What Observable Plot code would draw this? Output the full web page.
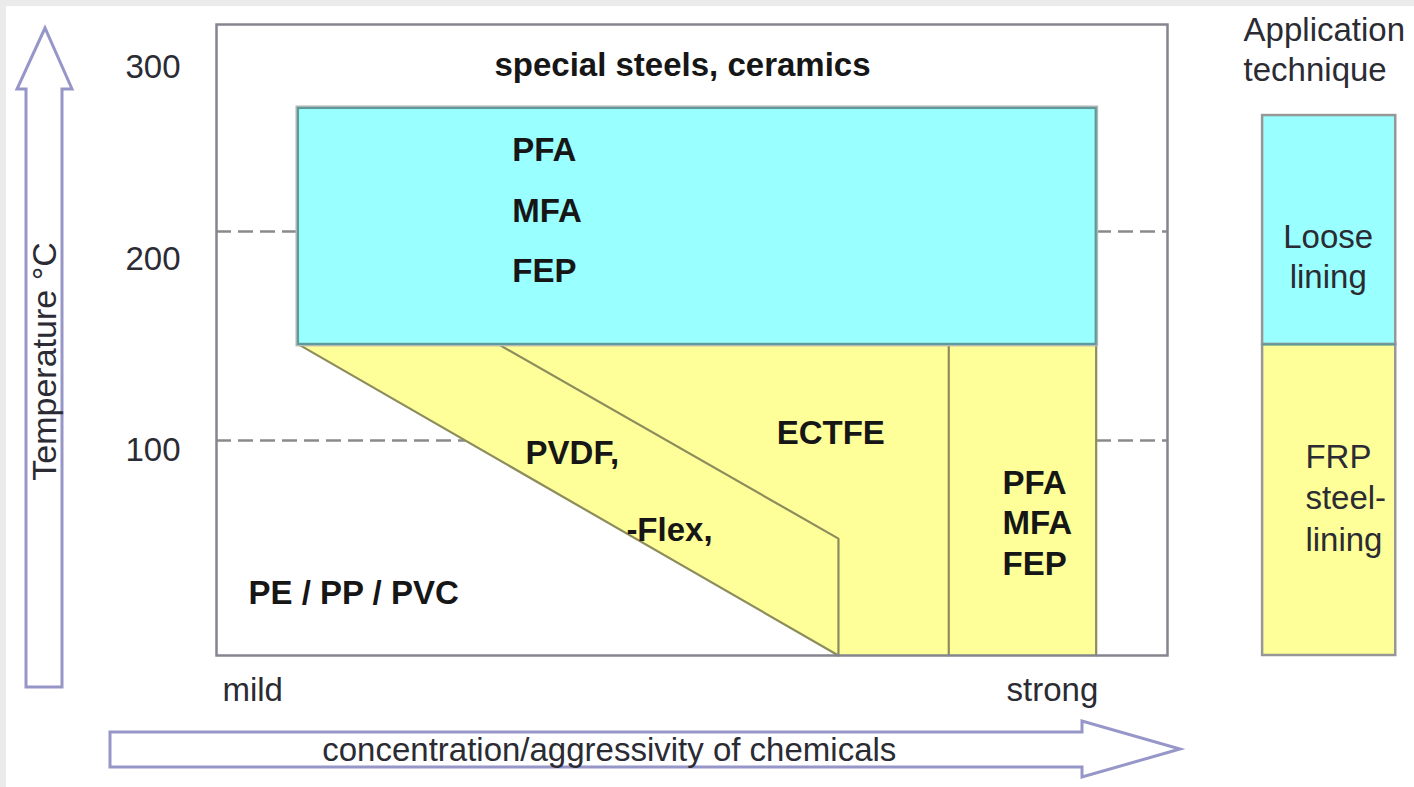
<!DOCTYPE html>
<html><head><meta charset="utf-8">
<script src="https://cdn.jsdelivr.net/npm/d3@7"></script>
<script src="https://cdn.jsdelivr.net/npm/@observablehq/plot@0.6"></script>
<style>
html,body{margin:0;padding:0;background:#fff;}
#wrap{position:relative;width:1414px;height:787px;overflow:hidden;background:#fff;}
#wrap::before{content:"";position:absolute;left:0;top:0;width:1414px;height:6px;background:#ebebeb;z-index:2}
#wrap::after{content:"";position:absolute;left:0;top:0;width:6px;height:787px;background:#ebebeb;z-index:2}
</style></head><body><div id="wrap"></div>
<script>
// ---- Data (temperature in °C, aggressivity on a relative 0 = mild … 100 = strong scale)
const tempTicks = [100, 200, 300];
const tempDomain = [-7.05, 322.45];
const aggrDomain = [0, 100];
const dashedTemps = [105.2, 214.4];

// Loose-lining fluoropolymer zone (PFA / MFA / FEP)
const looseLiningZone = [{a1: 8.62, a2: 92.5, t1: 155.4, t2: 278.6}];
// Steel-lining zone: upper and lower temperature bound per aggressivity
const steelLiningEdge = [
  {a: 8.62, lo: 155.4, hi: 155.4},
  {a: 65.4, lo: -7.05, hi: 155.4},
  {a: 92.5, lo: -7.05, hi: 155.4}
];
// Boundaries between materials
const boundaryLines = [
  {id: "pvdf", a: 8.62, t: 155.4}, {id: "pvdf", a: 65.4, t: -7.05},
  {id: "ectfe", a: 29.65, t: 155.4}, {id: "ectfe", a: 65.4, t: 54.0}, {id: "ectfe", a: 65.4, t: -7.05},
  {id: "pfa", a: 77.0, t: 155.4}, {id: "pfa", a: 77.0, t: -7.05},
  {id: "edge", a: 92.5, t: 155.4}, {id: "edge", a: 92.5, t: -7.05}
];
// Application technique column
const techniqueCols = [{a1: 110.0, a2: 124.0}];
const techniqueZones = [
  {name: "Loose\nlining", t1: 155.4, t2: 274.9},
  {name: "FRP\nsteel-\nlining", t1: -7.05, t2: 155.4}
];

// Labels
const headLabel = [{label: "special steels, ceramics", a: 49.0, t: 301.0}];
const looseList = [{label: "PFA\nMFA\nFEP", a: 31.1, t: 229.6}];
const steelList = [{label: "PFA\nMFA\nFEP", a: 82.65, t: 63.0}];
const materialLabels = [
  {label: "ECTFE", a: 58.9, t: 108.9},
  {label: "PVDF,", a: 32.5, t: 98.4},
  {label: "-Flex,", a: 43.1, t: 58.2},
  {label: "PE / PP / PVC", a: 3.36, t: 25.3}
];
const aggrTickLabels = [{label: "mild", a: 3.8, t: -25.3}, {label: "strong", a: 87.9, t: -25.3}];
const techniqueTitle = [{label: "Application\ntechnique", a: 108.0, t: 309.9}];
const looseLabel = [{label: "Loose\nlining", a: 116.9, t: 201.8}];
const frpLabel = [{label: "FRP\nsteel-\nlining", a: 114.5, t: 76.2}];
const xTitle = [{label: "concentration/aggressivity of chemicals", a: 41.3, t: -56.5}];
const yTitle = [{label: "Temperature °C", a: -17.98, t: 146.5}];

// ---- Styles
const FONT = "Liberation Sans, Arial, Helvetica, sans-serif";
const CYAN = "#99ffff", YELLOW = "#ffff99", TEAL = "#5f9a9a", OLIVE = "#8c8c5c";
const FRAME = "#85858f", INK = "#161616", INK2 = "#2b2b33";

const chart = Plot.plot({
  width: 1414, height: 787,
  marginLeft: 216, marginRight: 247, marginTop: 24, marginBottom: 132,
  x: {domain: aggrDomain, axis: null},
  y: {domain: tempDomain},
  style: {fontFamily: FONT, background: "transparent", overflow: "visible"},
  marks: [
    Plot.ruleY(dashedTemps, {x1: aggrDomain[0], x2: aggrDomain[1], stroke: "#8a8a8a", strokeWidth: 2.5, strokeDasharray: "15,7"}),
    Plot.areaY(steelLiningEdge, {x: "a", y1: "lo", y2: "hi", fill: YELLOW, curve: "linear"}),
    Plot.line(boundaryLines, {x: "a", y: "t", z: "id", stroke: OLIVE, strokeWidth: 2.2}),
    Plot.rect(looseLiningZone, {x1: "a1", x2: "a2", y1: "t1", y2: "t2", fill: "none", stroke: "#b8b8b8", strokeWidth: 5}),
    Plot.rect(looseLiningZone, {x1: "a1", x2: "a2", y1: "t1", y2: "t2", fill: CYAN, stroke: TEAL, strokeWidth: 2.2}),
    Plot.frame({stroke: FRAME, strokeWidth: 2.5}),
    // technique column
    Plot.rect([techniqueZones[1]], {x1: techniqueCols[0].a1, x2: techniqueCols[0].a2, y1: "t1", y2: "t2", fill: YELLOW, stroke: "#979797", strokeWidth: 2.5}),
    Plot.rect([techniqueZones[0]], {x1: techniqueCols[0].a1, x2: techniqueCols[0].a2, y1: "t1", y2: "t2", fill: CYAN, stroke: "#979797", strokeWidth: 2.5}),
    Plot.ruleY([techniqueZones[0].t1], {x1: techniqueCols[0].a1, x2: techniqueCols[0].a2, stroke: TEAL, strokeWidth: 2}),
    // axis
    Plot.axisY(tempTicks, {tickSize: 0, tickPadding: 36, fontSize: 33, label: null, color: INK2}),
    // labels
    Plot.text(headLabel, {x: "a", y: "t", text: "label", fontSize: 33, fontWeight: "bold", fill: INK, textAnchor: "middle"}),
    Plot.text(looseList, {x: "a", y: "t", text: "label", fontSize: 33, fontWeight: "bold", fill: INK, textAnchor: "start", lineHeight: 1.82}),
    Plot.text(steelList, {x: "a", y: "t", text: "label", fontSize: 33, fontWeight: "bold", fill: INK, textAnchor: "start", lineHeight: 1.24}),
    Plot.text(materialLabels, {x: "a", y: "t", text: "label", fontSize: 33, fontWeight: "bold", fill: INK, textAnchor: "start"}),
    Plot.text(aggrTickLabels, {x: "a", y: "t", text: "label", fontSize: 33, fill: INK2, textAnchor: "middle"}),
    Plot.text(techniqueTitle, {x: "a", y: "t", text: "label", fontSize: 33, fill: INK2, textAnchor: "start", lineHeight: 1.21}),
    Plot.text(looseLabel, {x: "a", y: "t", text: "label", fontSize: 33, fill: INK2, textAnchor: "middle", lineHeight: 1.21}),
    Plot.text(frpLabel, {x: "a", y: "t", text: "label", fontSize: 33, fill: INK2, textAnchor: "start", lineHeight: 1.26}),
    Plot.text(xTitle, {x: "a", y: "t", text: "label", fontSize: 33, fill: INK2, textAnchor: "middle"}),
    Plot.text(yTitle, {x: "a", y: "t", text: "label", fontSize: 34, fill: INK2, textAnchor: "middle", rotate: -90})
  ]
});

// hollow axis arrows (decoration)
const svg = d3.select(chart);
const arrowStyle = g => g.attr("fill", "none").attr("stroke", "#9696c8").attr("stroke-width", 3).attr("stroke-linejoin", "miter");
svg.insert("polygon", ":first-child")
  .attr("points", [[26,687],[26,89],[17,89],[45,28],[72,89],[62,89],[62,687]].map(p => p.join(",")).join(" "))
  .call(arrowStyle);
svg.insert("polygon", ":first-child")
  .attr("points", [[110,732],[1082,732],[1082,721],[1180,749],[1082,777],[1082,767],[110,767]].map(p => p.join(",")).join(" "))
  .call(arrowStyle);

document.getElementById("wrap").appendChild(chart);
</script></body></html>
